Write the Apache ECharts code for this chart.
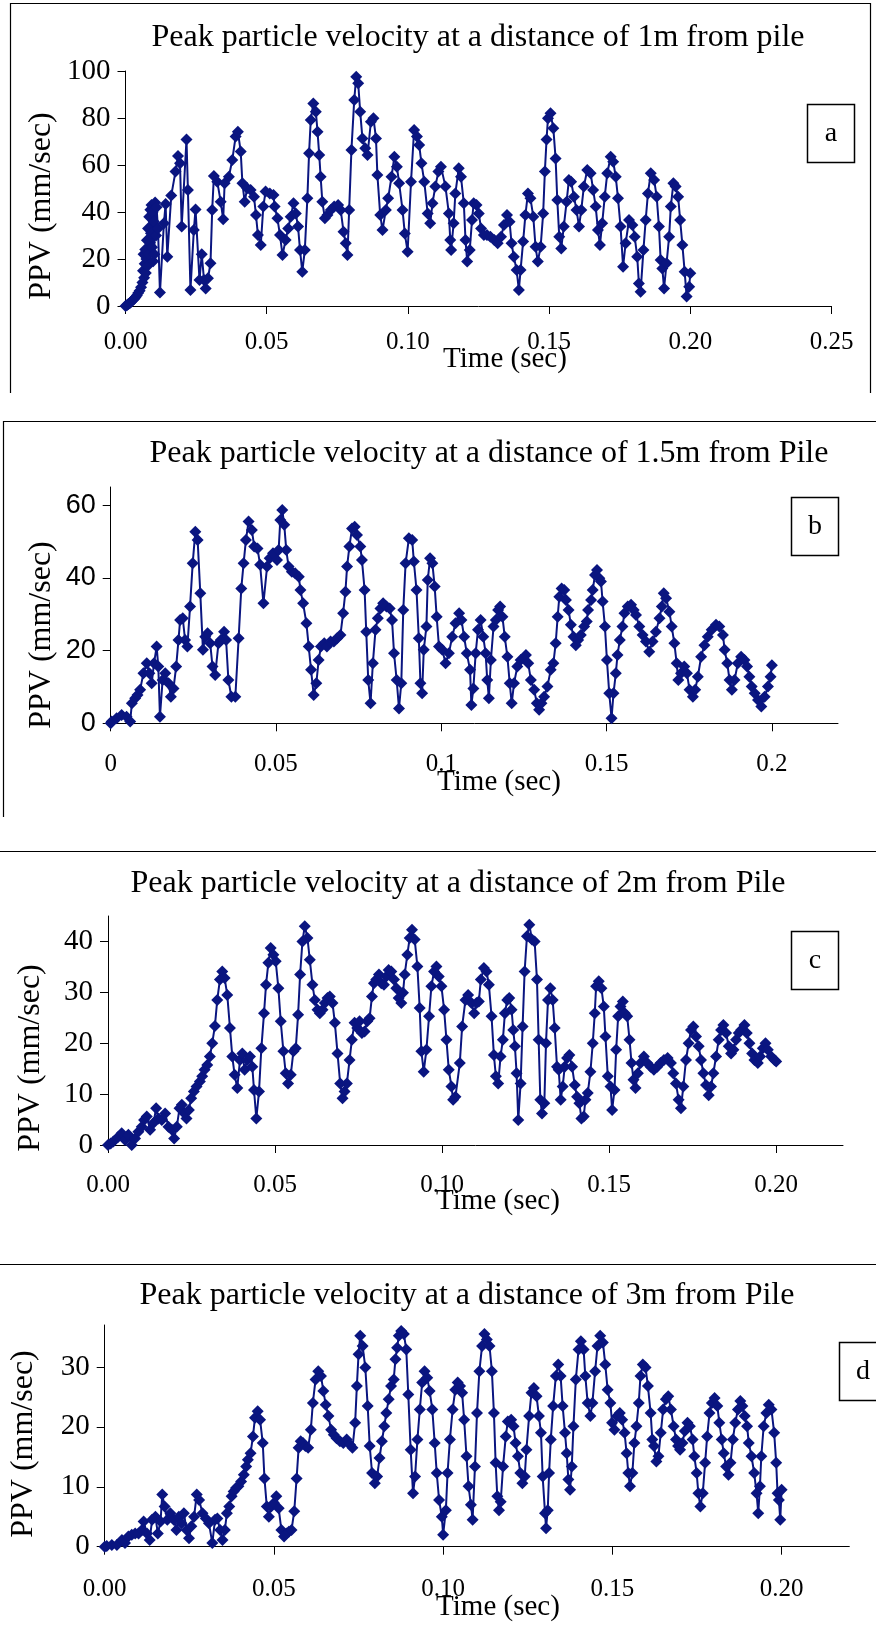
<!DOCTYPE html>
<html>
<head>
<meta charset="utf-8">
<title>Peak particle velocity</title>
<script src="https://cdn.jsdelivr.net/npm/echarts@6.0.0/dist/echarts.min.js"></script>
<style>
html, body { margin: 0; padding: 0; background: #fff; }
#main { width: 876px; height: 1631px; }
</style>
</head>
<body>
<div id="main"></div>
<script>
// values, [time (sec), PPV (mm/sec)]
const ppv1m = [[0,0],[0.0005,0.3],[0.001,0.8],[0.0015,1.2],[0.002,1.8],[0.0025,2.4],[0.003,3],[0.0035,3.6],[0.004,4.5],[0.0045,5.5],[0.005,6.5],[0.0055,8],[0.006,10],[0.0062,15],[0.0064,22],[0.0066,12],[0.0068,18],[0.007,24],[0.0072,14],[0.0074,20],[0.0076,28],[0.0078,17],[0.008,33],[0.0082,22],[0.0084,38],[0.0086,27],[0.0088,41],[0.009,31],[0.0092,43],[0.0094,25],[0.0096,40],[0.0098,19],[0.01,36],[0.0102,22],[0.0105,44],[0.0108,30],[0.011,42],[0.0115,33],
  [0.0122,5.7],[0.0136,35.2],[0.0142,43.4],[0.0148,21],[0.0162,47],[0.0177,57.2],[0.0186,63.8],[0.0193,60.7],[0.0199,33.8],[0.0216,70.9],[0.0221,49.4],[0.023,6.8],[0.0242,32.3],[0.0248,41.1],[0.0262,11.1],[0.027,22],[0.0278,11.1],[0.0284,7.5],[0.0292,11.8],[0.0301,18.2],[0.0307,40.9],[0.0313,55.3],[0.0325,52.9],[0.0337,44.4],[0.0346,36.9],[0.0351,52.2],[0.0366,55],[0.0378,62.1],[0.039,72.1],[0.0398,74.2],[0.0408,65.7],[0.0414,52.2],[0.0422,44.4],[0.0431,50.1],[0.0443,49.4],[0.0455,46.5],[0.0462,38.7],[0.0469,30.2],[0.0479,26],[0.0488,42.3],[0.0496,48.7],[0.0511,47.9],[0.0524,47.2],[0.0528,42.3],[0.0538,37.3],[0.0547,30.2],[0.0556,21.7],[0.0567,28.1],[0.0576,33],[0.0585,38],[0.0595,43.7],[0.0603,39.4],[0.0611,33.8],[0.0618,23.8],[0.0626,14.6],[0.0635,23.8],[0.0644,45.8],[0.065,65],[0.0656,79.1],[0.0665,86.2],[0.0674,82.7],[0.068,74.2],[0.0686,64.3],[0.0691,55],[0.0697,44.4],[0.0706,37.3],[0.0715,38.7],[0.0727,40.9],[0.0739,42.3],[0.0753,43],[0.0762,40.9],[0.0772,31.6],[0.078,26.7],[0.0786,21.7],[0.0792,40.9],[0.08,66.4],[0.081,87.7],[0.0817,97.6],[0.0824,94.8],[0.0831,82.7],[0.0839,71.3],[0.0849,67.1],[0.0857,64.3],[0.0869,78.4],[0.0878,79.9],[0.0887,71.3],[0.0892,55.7],[0.0902,38.7],[0.091,32.3],[0.0922,40.9],[0.093,45.8],[0.0942,55],[0.0952,63.5],[0.0961,59.3],[0.0969,52.2],[0.0981,40.9],[0.0989,30.9],[0.0999,23.1],
  [0.1011,52.9],[0.1022,74.9],[0.1032,72.1],[0.104,68.5],[0.1048,60.7],[0.1058,52.9],[0.107,39.4],[0.1079,35.2],[0.1087,43.7],[0.1097,50.8],[0.1108,57.2],[0.1117,59.3],[0.1133,50.8],[0.1145,39.4],[0.115,28.1],[0.1153,23.8],[0.1162,35.2],[0.1168,47.9],[0.118,58.6],[0.1188,55],[0.1198,43.7],[0.1204,28.1],[0.121,18.9],[0.1219,23.8],[0.1227,36.6],[0.1233,43.7],[0.1243,43],[0.1251,39.4],[0.1259,33],[0.1269,30.2],[0.128,30.2],[0.1292,29.5],[0.1306,28.1],[0.1318,26.7],[0.133,29.5],[0.134,34.5],[0.1351,38.7],[0.136,35.9],[0.1367,26.7],[0.1375,21],[0.1385,15.3],[0.1393,6.8],[0.1399,15.3],[0.1408,27.4],[0.1416,38.7],[0.1425,47.9],[0.1434,45.8],[0.1444,38],[0.1452,25.2],[0.146,18.9],[0.147,25.2],[0.1479,39.4],[0.1485,57.2],[0.1491,70.9],[0.1496,79.9],[0.1505,82],[0.1515,75.6],[0.1523,62.8],[0.1529,45.1],[0.1536,29.5],[0.1543,24.5],[0.1552,33.8],[0.1562,44.4],[0.157,53.6],[0.1578,52.9],[0.1588,46.5],[0.1597,40.9],[0.1606,33.8],[0.1614,40.9],[0.1623,50.8],[0.1635,57.9],[0.1647,56.5],[0.1656,49.4],[0.1665,42.3],[0.1673,32.3],[0.168,26],[0.1688,35.2],[0.1697,46.5],[0.1706,56.5],[0.1718,63.5],[0.1727,61.4],[0.1736,55],[0.1744,45.8],[0.1753,33.8],[0.1762,16.7],[0.1771,26.7],[0.1783,36.6],[0.1795,34.5],[0.1803,29.5],[0.1812,21],[0.1818,9.6],[0.1824,6.1],[0.1834,23.8],[0.1842,36.6],[0.185,47.9],[0.186,56.5],[0.1872,53.6],[0.1881,46.5],[0.1889,33.8],[0.1895,19.6],[0.1901,16],[0.1907,7.5],[0.1916,18.2],[0.1925,29.5],[0.1931,42.3],[0.194,52.2],[0.1948,50.8],[0.1957,46.5],[0.1964,36.6],[0.1972,26],[0.198,14.6],[0.1987,4],[0.1996,8.2],[0.2,13.9]];

const ppv15m = [[0,0],[0.0003,0.5],[0.0018,1.4],[0.0033,2.3],[0.0048,1.8],[0.0059,0.5],[0.0064,5.5],[0.0074,6.9],[0.0081,7.8],[0.0089,9.2],[0.0099,13.8],[0.0109,16.5],[0.0117,13.8],[0.0124,11],[0.0131,16.5],[0.0139,21.1],[0.0144,15.6],[0.0149,1.8],[0.0157,11.9],[0.0165,13.8],[0.0175,11],[0.0182,7.3],[0.019,9.6],[0.0198,15.6],[0.0205,22.9],[0.021,28.4],[0.0218,28.9],[0.0225,22.9],[0.0232,21.1],[0.024,32.1],[0.0248,44],[0.0256,52.7],[0.0263,50.4],[0.0271,35.8],[0.0279,20.2],[0.0286,23.8],[0.0293,24.8],[0.0301,22],[0.0308,15.6],[0.0316,13.3],[0.0326,22],[0.0333,22.9],[0.0343,25.2],[0.0349,22.9],[0.0356,11.9],[0.0365,7.3],[0.0377,7.3],[0.0387,23.4],[0.0395,37.1],[0.0402,44],[0.0409,50.4],[0.0417,55.5],[0.0427,53.2],[0.0434,48.6],[0.0444,48.1],[0.0452,43.6],[0.0462,33],[0.0473,43.1],[0.0481,45.4],[0.0491,46.8],[0.0503,44.9],[0.0508,47.7],[0.0513,55.9],[0.0519,58.7],[0.0525,54.6],[0.0531,47.7],[0.0538,43.1],[0.0548,41.7],[0.0558,41.3],[0.0569,40.3],[0.0574,36.7],[0.0582,33],[0.0592,27.5],[0.0599,21.1],[0.0606,14.7],[0.0614,7.8],[0.0622,11],[0.0629,17.4],[0.0636,21.1],[0.0646,22],[0.0654,21.1],[0.0665,22.5],[0.0675,22.5],[0.0685,23.4],[0.0695,24.3],[0.0703,30.3],[0.071,36.2],[0.0715,43.1],[0.0722,48.6],[0.073,53.6],[0.0738,54.1],[0.0745,51.8],[0.0755,48.6],[0.076,44.9],[0.0768,36.7],[0.0773,25.2],[0.0779,11.9],[0.0786,5.5],[0.0793,16.5],[0.0801,25.7],[0.0808,28.9],[0.0816,31.6],[0.0824,33],[0.0834,32.1],[0.0844,31.6],[0.0851,28.4],[0.0857,19.3],[0.0865,11.9],[0.0872,4.1],[0.0879,11],[0.0885,31.2],[0.0892,44],[0.0902,50.9],[0.0912,50.4],[0.0917,44.5],[0.0925,36.7],[0.0932,23.4],[0.0937,11],[0.0942,8.3],[0.0947,20.2],[0.0955,26.6],[0.0959,39.4],[0.0966,45.4],[0.0973,44],[0.098,37.6],[0.0986,29.3],[0.0993,21.1],
  [0.1003,20.2],[0.1013,16.5],[0.1023,19.3],[0.1033,23.8],[0.1043,27.5],[0.1054,30.3],[0.1061,28.4],[0.1069,23.8],[0.1077,19.3],[0.1087,14.7],[0.1091,5],[0.1097,9.6],[0.1104,19.3],[0.1111,25.7],[0.1119,28.4],[0.1127,23.8],[0.1134,19.3],[0.1139,11.9],[0.1144,6.9],[0.115,17.4],[0.1158,26.6],[0.1165,28.4],[0.1172,31.2],[0.1178,32.1],[0.1185,29.3],[0.1192,23.8],[0.12,18.3],[0.1207,11],[0.1213,5.5],[0.122,11],[0.123,15.6],[0.124,17.4],[0.1256,18.8],[0.1263,16.5],[0.1271,11.9],[0.1281,9.2],[0.1289,5.5],[0.1296,3.7],[0.1303,5.5],[0.1311,7.3],[0.1321,10.1],[0.1331,14.7],[0.1339,16.5],[0.1346,22],[0.1352,29.3],[0.1357,34.8],[0.1364,37.1],[0.1372,36.7],[0.1377,33.9],[0.1385,31.2],[0.1392,27.1],[0.14,23.8],[0.1407,21.5],[0.1414,22.9],[0.1422,24.3],[0.1432,26.6],[0.144,28],[0.1444,31.2],[0.1453,33.9],[0.1458,36.7],[0.1465,40.8],[0.1471,42.2],[0.1478,39.9],[0.1483,39],[0.1488,33.5],[0.1495,26.6],[0.1501,17.4],[0.1508,8.3],[0.1515,1.4],[0.1521,8.3],[0.1528,13.8],[0.1533,18.8],[0.154,22.9],[0.1548,26.6],[0.1554,30.3],[0.1564,32.1],[0.1574,32.6],[0.1582,31.2],[0.1589,29.8],[0.1599,26.6],[0.1609,24.3],[0.1619,22.5],[0.1629,19.7],[0.1639,22.5],[0.1649,25.2],[0.166,28.9],[0.1667,32.1],[0.1673,35.8],[0.168,34.4],[0.169,30.7],[0.1697,26.6],[0.1705,22],[0.1712,16.5],[0.1717,11.9],[0.1725,13.8],[0.1735,15.6],[0.1743,13.8],[0.1751,9.2],[0.1761,7.3],[0.1768,9.2],[0.1776,12.8],[0.1786,18.3],[0.1796,21.5],[0.1806,23.8],[0.1818,25.7],[0.1831,27.1],[0.1841,26.6],[0.1852,24.3],[0.1857,20.2],[0.1865,16.5],[0.1872,11.9],[0.1879,9.2],[0.1887,11.9],[0.1897,16.5],[0.1907,18.3],[0.1917,17.4],[0.1925,15.6],[0.1932,12.8],[0.1939,10.1],[0.1948,8.3],[0.1958,6.4],[0.1968,4.6],[0.1978,7.3],[0.1988,10.1],[0.1996,12.8],[0.2,16]];

const ppv2m = [[0,0],[0.0008,0.3],[0.0016,0.7],[0.0031,1.6],[0.0041,2.3],[0.0051,1],[0.0061,2],[0.0071,0],[0.0081,1.3],[0.0091,2.6],[0.0101,3.6],[0.0108,4.9],[0.0116,5.6],[0.0126,3],[0.0136,4.3],[0.0144,7.2],[0.0151,5.2],[0.0161,4.9],[0.0171,6.2],[0.0181,3.6],[0.0191,3],[0.0198,1.3],[0.0206,3.6],[0.0214,7.2],[0.0221,7.9],[0.0229,6.2],[0.0235,5.2],[0.0242,6.9],[0.0249,9.2],[0.0257,10.5],[0.0265,11.5],[0.0275,12.5],[0.0282,13.5],[0.0289,14.8],[0.0297,15.7],[0.0305,17.4],[0.0312,20],[0.032,23.4],[0.0327,28.5],[0.0335,32.5],[0.0342,34.1],[0.0349,32.8],[0.0357,29.5],[0.0365,23],[0.0372,17.4],[0.0379,13.8],[0.0387,11.2],[0.0395,16.7],[0.0402,18],[0.0409,14.8],[0.0417,16.7],[0.0425,17.4],[0.0432,15.4],[0.0437,10.8],[0.0444,5.2],[0.0452,10.5],[0.0459,19],[0.0467,25.9],[0.0473,31.5],[0.048,35.8],[0.0487,38.7],[0.0495,37.4],[0.0502,36.1],[0.051,30.8],[0.0517,24.3],[0.0525,18.4],[0.0532,14.1],[0.0539,12.1],[0.0547,13.8],[0.0555,18.4],[0.0562,19],[0.0569,25.6],[0.0575,33.5],[0.0582,40],[0.0589,43],[0.0597,40.7],[0.0604,36.4],[0.0612,31.5],[0.0619,28.5],[0.0627,26.6],[0.0634,25.9],[0.0642,26.6],[0.0649,27.9],[0.0657,28.9],[0.0664,29.2],[0.0672,27.9],[0.0679,24],[0.0687,18],[0.0695,12.1],[0.0702,9.2],[0.0708,10.5],[0.0715,12.1],[0.0723,16.7],[0.073,20.7],[0.0738,24],[0.0746,23],[0.0753,24.3],[0.076,22],[0.0768,22.3],[0.0776,24.3],[0.0783,24.9],[0.079,29.2],[0.0796,31.8],[0.0803,32.5],[0.0811,33.5],[0.0818,31.8],[0.0826,31.5],[0.0833,33.1],[0.084,34.4],[0.0848,34.1],[0.0856,32.5],[0.0863,30.8],[0.087,28.9],[0.0878,27.9],[0.0883,29.9],[0.0888,33.5],[0.0896,37.4],[0.0903,40.7],[0.091,42.3],[0.0918,40.4],[0.0926,35.1],[0.0933,26.9],[0.0938,18.4],[0.0945,14.4],[0.0953,18.7],[0.0961,25.3],[0.0968,31.2],[0.0976,34.1],[0.0983,35.1],[0.099,33.1],[0.0998,31.2],[0.1006,26.6],[0.1013,20.7],[0.102,14.8],[0.1028,11.5],[0.1033,8.9],[0.104,9.5],
  [0.1053,16.1],[0.106,23.3],[0.107,28.5],[0.1078,29.5],[0.1088,27.9],[0.1096,25.9],[0.1103,27.9],[0.111,28.2],[0.1116,32.5],[0.1125,34.8],[0.1133,34.1],[0.114,31.5],[0.1148,25.3],[0.1155,17.7],[0.1161,13.5],[0.1168,12.1],[0.1175,17.4],[0.1182,20.7],[0.1188,25.9],[0.1195,28.5],[0.1201,28.9],[0.1208,26.6],[0.1213,22.6],[0.1218,19.4],[0.1223,14.1],[0.1228,4.9],[0.1235,12.1],[0.1241,23.3],[0.1247,34.1],[0.1254,41],[0.1261,43.3],[0.1269,40.4],[0.1277,40],[0.1284,32.5],[0.1289,20.7],[0.1294,8.9],[0.1299,6.2],[0.1306,8.2],[0.1311,20],[0.1317,28.5],[0.1324,30.8],[0.1331,28.5],[0.1337,23],[0.1344,15.4],[0.1349,14.8],[0.1355,8.9],[0.1361,11.5],[0.1367,15.4],[0.1374,17.1],[0.1381,17.7],[0.1389,15.4],[0.1397,11.8],[0.1404,9.5],[0.1411,8.2],[0.1417,5.2],[0.1424,5.6],[0.1429,8.9],[0.1436,10.2],[0.1444,14.4],[0.1451,20],[0.1457,25.9],[0.1461,31.2],[0.1469,32.2],[0.1477,30.8],[0.1484,27.2],[0.1489,21.3],[0.1496,13.5],[0.1504,11.5],[0.1509,6.9],[0.1516,10.8],[0.1521,18.7],[0.1527,25.3],[0.1534,27.2],[0.1541,28.2],[0.1547,25.9],[0.1554,25.3],[0.1561,20.7],[0.1567,16.1],[0.1573,12.8],[0.1579,11.2],[0.1586,14.1],[0.1594,16.1],[0.1604,17.4],[0.1614,16.1],[0.1624,15.4],[0.1634,14.8],[0.1644,15.4],[0.1654,16.1],[0.1664,16.7],[0.1675,17.1],[0.1685,16.1],[0.1692,14.1],[0.17,12.1],[0.1708,8.9],[0.1715,7.2],[0.1722,11.5],[0.173,16.7],[0.1738,20],[0.1745,22.6],[0.1752,23.3],[0.176,21.3],[0.1768,19.4],[0.1775,16.7],[0.1782,14.1],[0.179,11.8],[0.1798,9.8],[0.1805,11.5],[0.1812,14.1],[0.182,17.4],[0.1828,20.7],[0.1835,22.6],[0.1842,23.6],[0.185,22],[0.1858,19.4],[0.1865,18],[0.1872,18.7],[0.188,20.7],[0.1888,22],[0.1895,22.6],[0.1905,23.6],[0.1912,22],[0.192,20],[0.1928,18],[0.1935,16.7],[0.1945,16.1],[0.1952,17.4],[0.196,19],[0.1968,20],[0.1975,18.7],[0.1985,17.4],[0.1995,16.7],[0.2,16.4]];

const ppv3m = [[0,0],[0.0006,0.1],[0.0021,0.3],[0.0036,0.3],[0.0051,1.1],[0.006,0.6],[0.007,1.7],[0.008,2],[0.009,2.2],[0.01,2.2],[0.011,2.8],[0.0115,4.2],[0.0125,2.2],[0.0133,1.1],[0.014,4.5],[0.015,5],[0.0157,2.2],[0.0165,4.2],[0.017,8.7],[0.0177,6.7],[0.0185,4.5],[0.0194,5.6],[0.0204,4.5],[0.0212,2.8],[0.0219,5],[0.0227,3.9],[0.0234,5.6],[0.0242,2.8],[0.0249,1.4],[0.0256,3.4],[0.0264,5],[0.0272,8.7],[0.0279,7.8],[0.0289,5.6],[0.0299,4.7],[0.0308,3.9],[0.0318,0.6],[0.0326,4.5],[0.0333,4.7],[0.0341,2.8],[0.0348,1.1],[0.0355,2.8],[0.0361,5.6],[0.0368,6.7],[0.0375,8.4],[0.0381,9.2],[0.0388,9.8],[0.0395,10.1],[0.0403,10.9],[0.0411,12],[0.0418,13.4],[0.0423,14.5],[0.0431,15.6],[0.0438,18.4],[0.0444,21.5],[0.0452,22.6],[0.0459,21.2],[0.0467,17.3],[0.0472,11.4],[0.0479,6.7],[0.0485,5],[0.0492,6.7],[0.05,7.3],[0.0507,8.4],[0.0514,6.4],[0.0522,2.8],[0.053,1.7],[0.0537,2.2],[0.0544,2.5],[0.0552,2.8],[0.056,5.9],[0.0567,11.4],[0.0573,16.5],[0.0579,17.6],[0.0586,17.3],[0.0593,16.8],[0.0601,16.5],[0.0609,19.5],[0.0615,24],[0.0623,27.9],[0.0631,29.3],[0.0639,28.5],[0.0646,26],[0.0653,23.7],[0.0661,21.8],[0.0669,19.5],[0.0677,18.7],[0.0685,18.1],[0.0695,17.6],[0.0705,17.3],[0.0715,17.9],[0.0725,17],[0.0732,16.5],[0.074,20.7],[0.0745,26.8],[0.075,32.1],[0.0755,35.2],[0.0762,33.5],[0.077,29.9],[0.0777,23.5],[0.0783,16.8],[0.079,12.3],[0.0798,10.6],[0.0805,11.7],[0.0812,14.8],[0.0819,17.6],[0.0826,20.1],[0.0832,22.3],[0.0839,24.6],[0.0846,26.8],[0.0854,27.9],[0.0859,31.3],[0.0864,33.2],[0.0869,35.2],[0.0876,36],[0.0884,35.5],[0.0891,32.9],[0.0897,25.4],[0.0904,16.2],[0.0911,8.9],[0.0917,11.7],[0.0924,17.9],[0.0931,22.9],[0.0938,27.4],[0.0945,29.3],[0.0953,28.2],[0.096,26],[0.0968,22.9],[0.0975,17.3],[0.0981,12.3],[0.0988,7.8],[0.0996,5],[0.1,2],
  [0.1008,6.1],[0.1013,12.3],[0.102,17.9],[0.1028,22.9],[0.1036,26.2],[0.1043,27.4],[0.105,26.8],[0.1056,25.7],[0.1062,21.2],[0.1069,15.1],[0.1075,10.1],[0.1082,7],[0.1087,4.5],[0.1094,13.4],[0.11,22.3],[0.1107,29.3],[0.1115,33.5],[0.1122,35.5],[0.1129,34.6],[0.1137,33.5],[0.1144,29.3],[0.115,22.3],[0.1155,14],[0.116,8.4],[0.1165,6.1],[0.117,7.5],[0.1177,13.4],[0.1185,18.4],[0.1191,20.9],[0.1201,21.2],[0.1208,20.1],[0.1214,17.3],[0.1221,15.1],[0.1228,12.3],[0.1234,10.6],[0.1241,11.7],[0.1246,16.2],[0.1254,21.8],[0.1261,25.7],[0.1268,26.5],[0.1276,25.1],[0.1283,21.8],[0.1289,19],[0.1294,11.7],[0.1301,5.6],[0.1304,3.1],[0.1309,6.1],[0.1313,12.3],[0.1318,17.9],[0.1325,23.5],[0.1333,28.5],[0.134,30.4],[0.1347,28.5],[0.1353,23.5],[0.136,19],[0.1365,15.6],[0.137,11.2],[0.1375,9.5],[0.138,13.4],[0.1385,20.1],[0.1392,27.9],[0.14,32.9],[0.1407,34.3],[0.1415,32.9],[0.142,28.5],[0.1427,24],[0.1435,21.8],[0.1441,24],[0.1449,29.3],[0.1456,33.5],[0.1464,35.2],[0.1472,34.1],[0.1479,30.4],[0.1486,26.2],[0.1494,24],[0.1499,20.7],[0.1506,19.5],[0.1514,21.8],[0.1522,22.3],[0.1529,21.2],[0.1536,19],[0.1542,15.6],[0.1547,12.3],[0.1552,10.1],[0.1559,12.3],[0.1565,17.3],[0.1571,20.1],[0.1578,24],[0.1583,28.5],[0.159,30.4],[0.1598,29.9],[0.1605,26.8],[0.1613,22.3],[0.1618,17.9],[0.1623,16.8],[0.163,14.2],[0.1636,15.1],[0.1643,19],[0.165,22.9],[0.1658,24.6],[0.1665,25.1],[0.1673,22.9],[0.1681,20.1],[0.1688,17.9],[0.1694,16.8],[0.17,16.2],[0.1707,17.3],[0.1714,19.3],[0.1722,20.7],[0.1729,20.1],[0.1737,17.9],[0.1742,15.1],[0.1749,12.3],[0.1754,8.9],[0.176,6.7],[0.1767,8.9],[0.1774,14],[0.178,18.4],[0.1787,22.3],[0.1794,24],[0.1802,24.8],[0.181,23.5],[0.1816,20.7],[0.1823,17.9],[0.1829,15.6],[0.1836,13.4],[0.1843,12],[0.1849,14],[0.1856,17.9],[0.1863,20.7],[0.1871,22.9],[0.1878,24.3],[0.1884,23.5],[0.1891,21.8],[0.1898,20.1],[0.1903,17.3],[0.1911,15.1],[0.1919,12.3],[0.1926,8.9],[0.1931,5.6],[0.1936,10.1],[0.194,15.1],[0.1947,20.1],[0.1955,22.3],[0.1962,23.7],[0.197,22.9],[0.1978,19],[0.1984,14],[0.1988,8.9],[0.1992,7.8],[0.1996,4.5],[0.2,9.5]];

const titles = [
  'Peak particle velocity at a distance of 1m from pile',
  'Peak particle velocity at a distance of 1.5m from Pile',
  'Peak particle velocity at a distance of 2m from Pile',
  'Peak particle velocity at a distance of 3m from Pile'
];
const letters = ['a', 'b', 'c', 'd'];
const xMax = [0.25, 0.22, 0.22, 0.22];
const xTicks = [[0, 0.05, 0.1, 0.15, 0.2, 0.25], [0, 0.05, 0.1, 0.15, 0.2], [0, 0.05, 0.1, 0.15, 0.2], [0, 0.05, 0.1, 0.15, 0.2]];
const yMax = [100, 65, 45, 37];
const yTicks = [[0, 20, 40, 60, 80, 100], [0, 20, 40, 60], [0, 10, 20, 30, 40], [0, 10, 20, 30]];
const allData = [ppv1m, ppv15m, ppv2m, ppv3m];

// pixel layout of each panel
const grids = [
  { left: 125.5, top: 71, width: 706, height: 235 },
  { left: 110.7, top: 487, width: 727.3, height: 236.3 },
  { left: 108, top: 916, width: 735, height: 229 },
  { left: 104.7, top: 1325, width: 744.6, height: 221.7 }
];
const titlePos = [[478, 22], [489, 438], [458, 868], [467, 1280]];
const yNamePos = [[42, 206], [42, 635], [31, 1058], [24, 1444]];
const xNamePos = [[505, 359], [499, 782], [498, 1201], [498, 1607]];
const boxPos = [[807, 104], [791, 497], [791, 931], [839, 1342]];
const xLabelMargin = [24, 29, 28, 30];

const SERIF = "'Liberation Serif', 'Times New Roman', serif";
const SANS = "'Liberation Sans', Arial, sans-serif";
const NAVY = '#0a1580';

const chart = echarts.init(document.getElementById('main'), null, { renderer: 'canvas' });

const graphic = [];
// panel frames
graphic.push({ type: 'polyline', shape: { points: [[10.5, 393], [10.5, 3.5], [870.5, 3.5], [870.5, 393]] }, style: { stroke: '#000', lineWidth: 1.2, fill: null } });
graphic.push({ type: 'polyline', shape: { points: [[3.5, 817], [3.5, 421.5], [876, 421.5]] }, style: { stroke: '#000', lineWidth: 1.2, fill: null } });
graphic.push({ type: 'line', shape: { x1: 0, y1: 851.5, x2: 876, y2: 851.5 }, style: { stroke: '#000', lineWidth: 1.2 } });
graphic.push({ type: 'line', shape: { x1: 0, y1: 1264.5, x2: 876, y2: 1264.5 }, style: { stroke: '#000', lineWidth: 1.2 } });

for (let i = 0; i < 4; i++) {
  graphic.push({
    type: 'text', x: xNamePos[i][0], y: xNamePos[i][1],
    style: { text: 'Time (sec)', font: '29px ' + SERIF, fill: '#000', textAlign: 'center', textVerticalAlign: 'middle' }
  });
  graphic.push({
    type: 'text', x: yNamePos[i][0], y: yNamePos[i][1], rotation: Math.PI / 2,
    style: { text: 'PPV (mm/sec)', font: '32px ' + SERIF, fill: '#000', textAlign: 'center', textVerticalAlign: 'middle' }
  });
  graphic.push({
    type: 'rect', shape: { x: boxPos[i][0] + 0.5, y: boxPos[i][1] + 0.5, width: 47, height: 58 },
    style: { stroke: '#000', lineWidth: 1.5, fill: '#fff' }
  });
  graphic.push({
    type: 'text', x: boxPos[i][0] + 24, y: boxPos[i][1] + 30,
    style: { text: letters[i], font: '28px ' + SERIF, fill: '#000', textAlign: 'center', textVerticalAlign: 'middle' }
  });
}

const option = {
  animation: false,
  backgroundColor: '#fff',
  title: titles.map((t, i) => ({
    text: t, left: titlePos[i][0], top: titlePos[i][1], textAlign: 'center', padding: 0,
    textStyle: { fontFamily: SERIF, fontSize: 32, fontWeight: 'normal', color: '#000' }
  })),
  grid: grids.map(g => Object.assign({ outerBoundsMode: 'none' }, g)),
  xAxis: grids.map((g, i) => ({
    type: 'value', gridIndex: i, min: 0, max: xMax[i], interval: 0.05,
    axisLine: { show: true, onZero: false, lineStyle: { color: '#000', width: 1 } },
    axisTick: { show: true, length: 8, customValues: xTicks[i], lineStyle: { color: '#000' } },
    axisLabel: {
      customValues: xTicks[i], margin: xLabelMargin[i], color: '#000', fontFamily: SERIF, fontSize: 25,
      formatter: v => (i === 1 ? String(v) : v.toFixed(2))
    },
    splitLine: { show: false }
  })),
  yAxis: grids.map((g, i) => ({
    type: 'value', gridIndex: i, min: 0, max: yMax[i],
    axisLine: { show: true, lineStyle: { color: '#000', width: 1 } },
    axisTick: { show: true, length: 8, customValues: yTicks[i], lineStyle: { color: '#000' } },
    axisLabel: {
      customValues: yTicks[i], margin: 15, color: '#000',
      fontFamily: i === 1 ? SANS : SERIF, fontSize: i === 1 ? 27 : 29
    },
    splitLine: { show: false }
  })),
  series: allData.map((d, i) => ({
    type: 'line', xAxisIndex: i, yAxisIndex: i, data: d,
    symbol: 'diamond', symbolSize: 12, showAllSymbol: true,
    itemStyle: { color: NAVY },
    lineStyle: { color: NAVY, width: 2 },
    silent: true
  })),
  graphic: graphic
};

chart.setOption(option);
</script>
</body>
</html>
